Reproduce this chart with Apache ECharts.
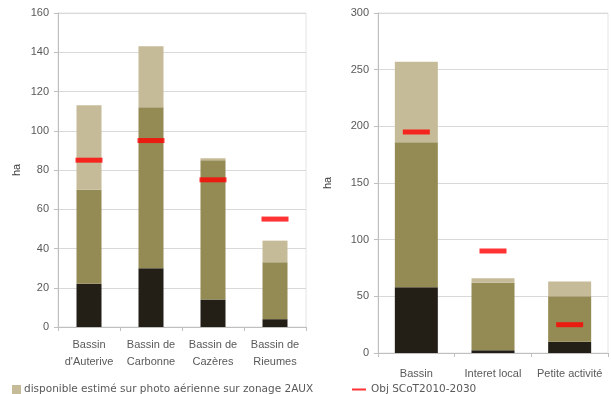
<!DOCTYPE html>
<html>
<head>
<meta charset="utf-8">
<script src="https://cdn.jsdelivr.net/npm/echarts@6/dist/echarts.min.js"></script>
<style>
  html, body { margin: 0; padding: 0; background: #fff; }
  #chart { width: 611px; height: 394px; }
</style>
</head>
<body>
<div id="chart"></div>
<script>
// Bassins (left panel)
const bassinCats = ["Bassin\nd'Auterive", "Bassin de\nCarbonne", "Bassin de\nCazères", "Bassin de\nRieumes"];
const bassinConsomme = [22, 30, 14, 4];
const bassinZonage = [48, 82, 71, 29];
const bassinPhoto = [43, 31, 1, 11];
const bassinObjectif = [85, 95, 75, 55];
const bassinTicks = [0, 20, 40, 60, 80, 100, 120, 140, 160];

// Types de zones (right panel)
const typeCats = ["Bassin", "Interet local", "Petite activité"];
const typeConsomme = [58, 2.5, 10];
const typeZonage = [128, 59.5, 40];
const typePhoto = [71, 4, 13];
const typeObjectif = [195, 90, 25];
const typeTicks = [0, 50, 100, 150, 200, 250, 300];

const NAME_PHOTO = 'disponible estimé sur photo aérienne sur zonage 2AUX';
const NAME_OBJ = 'Obj SCoT2010-2030';

const C_DARK = '#231f16';
const C_OLIVE = '#948a54';
const C_TAN = '#c6bb98';
const C_RED = '#ff0000';
const TXT = '#595959';
const FONT = 'Liberation Sans';

function yAxis(gridIndex, ticks, gap) {
  return {
    type: 'value', gridIndex,
    min: ticks[0], max: ticks[ticks.length - 1], interval: ticks[1] - ticks[0],
    name: 'ha', nameLocation: 'middle', nameRotate: 90, nameGap: gap,
    nameTextStyle: { color: '#404040', fontFamily: FONT, fontSize: 11 },
    axisLine: { show: true, lineStyle: { color: '#bfbfbf' } },
    axisTick: { show: true, length: 4, lineStyle: { color: '#bfbfbf' } },
    axisLabel: { color: TXT, fontFamily: FONT, fontSize: 11, margin: 9 },
    splitLine: { lineStyle: { color: '#d9d9d9' } }
  };
}

function xAxis(gridIndex, cats, margin) {
  return {
    type: 'category', gridIndex, data: cats,
    axisLine: { lineStyle: { color: '#bfbfbf' } },
    axisTick: { show: true, length: 4, lineStyle: { color: '#bfbfbf' } },
    axisLabel: { color: TXT, fontFamily: FONT, fontSize: 11, lineHeight: 17, margin, interval: 0 }
  };
}

function bar(name, data, color, idx, width) {
  return {
    type: 'bar', name, data, stack: 'total' + idx,
    xAxisIndex: idx, yAxisIndex: idx,
    barWidth: width, itemStyle: { color }
  };
}

function objectif(data, idx) {
  return {
    type: 'scatter', name: NAME_OBJ, data,
    xAxisIndex: idx, yAxisIndex: idx,
    symbol: 'rect', symbolSize: [27, 5], z: 5,
    itemStyle: { color: C_RED }
  };
}

const chart = echarts.init(document.getElementById('chart'), null, { renderer: 'canvas' });
chart.setOption({
  animation: false,
  backgroundColor: '#fff',
  grid: [
    { left: 58, right: 305, top: 13, bottom: 67, show: true, borderColor: '#e4e4e4', borderWidth: 1 },
    { left: 378, right: 3, top: 13, bottom: 41, show: true, borderColor: '#e4e4e4', borderWidth: 1 }
  ],
  xAxis: [xAxis(0, bassinCats, 9), xAxis(1, typeCats, 12)],
  yAxis: [yAxis(0, bassinTicks, 36), yAxis(1, typeTicks, 45)],
  legend: [
    {
      data: [{ name: NAME_PHOTO, icon: 'rect' }],
      left: 7, top: 379, itemWidth: 9, itemHeight: 9, itemGap: 4,
      textStyle: { color: TXT, fontFamily: 'DejaVu Sans', fontSize: 10.5, padding: [0, 0, 0, -2] },
      selectedMode: false
    },
    {
      data: [{ name: NAME_OBJ, icon: 'rect', itemStyle: { color: C_RED } }],
      left: 347, top: 379, itemWidth: 14, itemHeight: 2, itemGap: 4,
      textStyle: { color: TXT, fontFamily: 'DejaVu Sans', fontSize: 10.5 },
      selectedMode: false
    }
  ],
  series: [
    bar('consommé', bassinConsomme, C_DARK, 0, 25),
    bar('zonage', bassinZonage, C_OLIVE, 0, 25),
    bar(NAME_PHOTO, bassinPhoto, C_TAN, 0, 25),
    objectif(bassinObjectif, 0),
    bar('consommé', typeConsomme, C_DARK, 1, 43),
    bar('zonage', typeZonage, C_OLIVE, 1, 43),
    bar(NAME_PHOTO, typePhoto, C_TAN, 1, 43),
    objectif(typeObjectif, 1)
  ]
});
</script>
</body>
</html>
